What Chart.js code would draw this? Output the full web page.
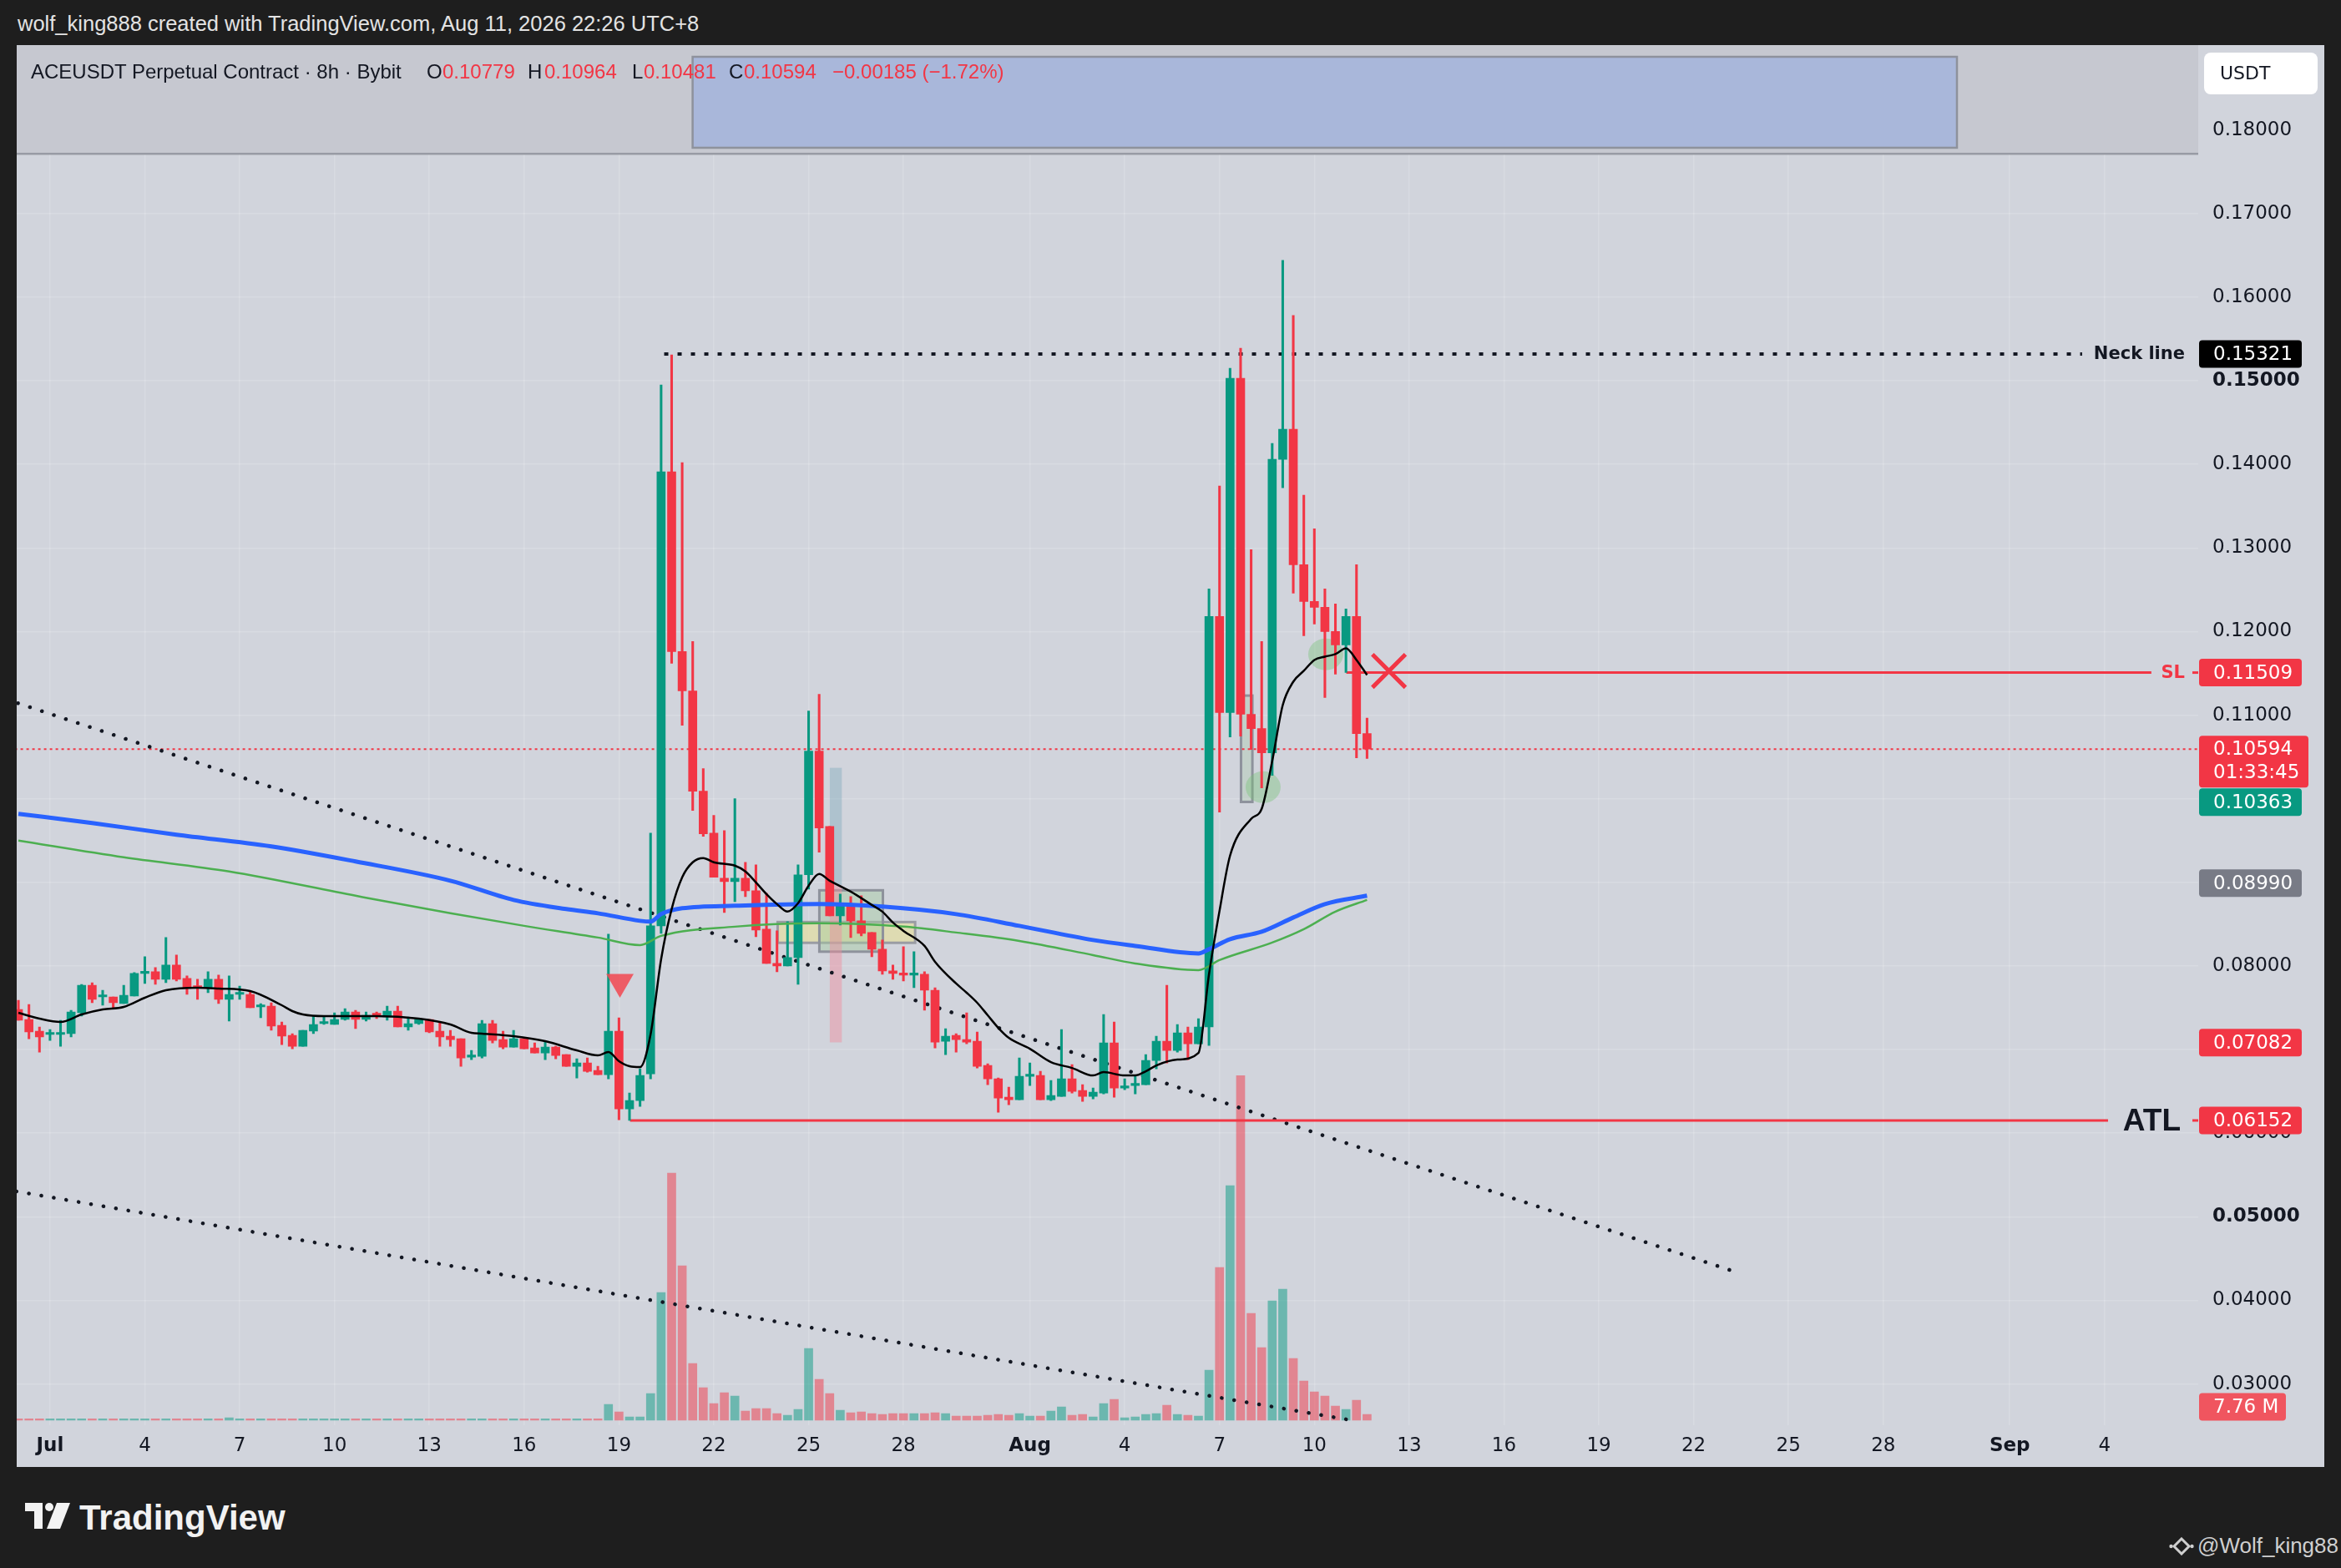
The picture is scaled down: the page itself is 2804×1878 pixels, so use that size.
<!DOCTYPE html>
<html>
<head>
<meta charset="utf-8">
<title>ACEUSDT Perpetual Contract 8h</title>
<script src="https://cdn.jsdelivr.net/npm/chart.js@4.4.1/dist/chart.umd.min.js"></script>
<style>
  html, body { margin:0; padding:0; background:#1e1e1e; }
  body { width:2804px; height:1878px; position:relative; overflow:hidden; font-family:"Liberation Sans", Arial, sans-serif; }
  #title { position:absolute; left:21px; top:14px; color:#e3e3e3; font-size:25.5px; white-space:nowrap; }
  #panel { position:absolute; left:20px; top:54px; width:2764px; height:1703px; background:#d1d4dc; }
  .lg { position:absolute; top:72px; font-size:24px; color:#131722; white-space:nowrap; }
  .lg.v { color:#f23645; }
  #logo { position:absolute; left:30px; top:1800px; }
  #logotext { position:absolute; left:95px; top:1794px; font-size:42px; font-weight:bold; color:#f2f2f2; }
  #mark { position:absolute; left:2598px; top:1836px; color:#cfcfcf; font-size:26px; white-space:nowrap; }
  #mark svg { vertical-align:-3px; margin-right:4px; }
</style>
</head>
<body>
<div id="title">wolf_king888 created with TradingView.com, Aug 11, 2026 22:26 UTC+8</div>
<div id="panel"><canvas id="c"></canvas></div>

<span class="lg" style="left:37px">ACEUSDT Perpetual Contract · 8h · Bybit</span>
<span class="lg" style="left:511px">O</span><span class="lg v" style="left:530px">0.10779</span>
<span class="lg" style="left:632px">H</span><span class="lg v" style="left:652px">0.10964</span>
<span class="lg" style="left:757px">L</span><span class="lg v" style="left:771px">0.10481</span>
<span class="lg" style="left:873px">C</span><span class="lg v" style="left:891px">0.10594</span>
<span class="lg v" style="left:997px">−0.00185 (−1.72%)</span>

<svg id="logo" width="54" height="36" viewBox="0 0 54 36">
  <path d="M0 0 H21 V31 H11 V10 H0 Z" fill="#f2f2f2"/>
  <circle cx="29" cy="5" r="5" fill="#f2f2f2"/>
  <path d="M38 0 H54 L42 31 H26 Z" fill="#f2f2f2"/>
</svg>
<div id="logotext">TradingView</div>
<div id="mark"><svg width="30" height="22" viewBox="0 0 30 22"><path d="M15 2 L24 11 L15 20 L6 11 Z" fill="none" stroke="#cfcfcf" stroke-width="3"/><circle cx="2.5" cy="11" r="2.2" fill="#cfcfcf"/><circle cx="27.5" cy="11" r="2.2" fill="#cfcfcf"/></svg>@Wolf_king88</div>

<script>
// 8h candles, first one opens Jun 30 00:00 (day -1, day 0 = Jul 1)
var firstCandleDay = -1;

var candleOpen = [
  0.0748,0.0736,0.0722,0.0718,0.0718,0.0719,0.0744,0.0777,0.0763,0.0763,
  0.0755,0.0764,0.0791,0.0793,0.0784,0.0801,0.0785,0.0775,0.0774,0.0784,
  0.0760,0.0766,0.0766,0.0751,0.0752,0.0729,0.0717,0.0704,0.0722,0.0731,
  0.0730,0.0736,0.0745,0.0736,0.0742,0.0739,0.0746,0.0727,0.0731,0.0736,
  0.0722,0.0716,0.0713,0.0691,0.0692,0.0731,0.0712,0.0703,0.0713,0.0702,
  0.0696,0.0703,0.0694,0.0680,0.0684,0.0675,0.0670,0.0722,0.0629,0.0639,
  0.0671,0.0848,0.1391,0.1176,0.1129,0.1009,0.0959,0.0905,0.0901,0.0905,
  0.0890,0.0844,0.0803,0.0800,0.0810,0.0909,0.1057,0.0967,0.0860,0.0872,
  0.0854,0.0840,0.0820,0.0794,0.0791,0.0789,0.0790,0.0771,0.0710,0.0717,
  0.0712,0.0710,0.0681,0.0665,0.0643,0.0640,0.0668,0.0669,0.0640,0.0644,
  0.0665,0.0651,0.0644,0.0648,0.0708,0.0654,0.0657,0.0658,0.0687,0.0710,
  0.0699,0.0720,0.0707,0.0727,0.1218,0.1103,0.1503,0.1101,0.1084,0.1055,
  0.1406,0.1442,0.1280,0.1236,0.1229,0.1200,0.1184,0.1218,0.10779
];
var candleHigh = [
  0.0759,0.0754,0.0727,0.0724,0.0735,0.0747,0.0778,0.0780,0.0771,0.0763,
  0.0777,0.0792,0.0811,0.0798,0.0834,0.0813,0.0788,0.0784,0.0793,0.0789,
  0.0788,0.0776,0.0770,0.0755,0.0756,0.0733,0.0719,0.0723,0.0740,0.0740,
  0.0744,0.0749,0.0747,0.0745,0.0745,0.0752,0.0752,0.0739,0.0737,0.0736,
  0.0732,0.0723,0.0713,0.0699,0.0735,0.0735,0.0722,0.0723,0.0714,0.0708,
  0.0710,0.0704,0.0694,0.0689,0.0690,0.0680,0.0838,0.0738,0.0648,0.0677,
  0.0959,0.1495,0.1531,0.1402,0.1188,0.1036,0.0980,0.0962,0.1000,0.0924,
  0.0921,0.0887,0.0842,0.0853,0.0921,0.1105,0.1125,0.0967,0.0886,0.0883,
  0.0884,0.0840,0.0831,0.0801,0.0823,0.0817,0.0793,0.0774,0.0725,0.0719,
  0.0744,0.0721,0.0683,0.0666,0.0655,0.0690,0.0684,0.0674,0.0663,0.0724,
  0.0682,0.0658,0.0654,0.0742,0.0733,0.0665,0.0669,0.0694,0.0716,0.0777,
  0.0730,0.0727,0.0737,0.1251,0.1374,0.1515,0.1539,0.1298,0.1188,0.1425,
  0.1644,0.1578,0.1363,0.1323,0.1251,0.1233,0.1227,0.1280,0.10964
];
var candleLow = [
  0.0735,0.0713,0.0697,0.0711,0.0704,0.0715,0.0740,0.0756,0.0753,0.0749,
  0.0755,0.0764,0.0779,0.0778,0.0780,0.0782,0.0766,0.0760,0.0768,0.0755,
  0.0734,0.0760,0.0750,0.0738,0.0723,0.0706,0.0701,0.0704,0.0719,0.0730,
  0.0730,0.0735,0.0725,0.0734,0.0737,0.0735,0.0727,0.0723,0.0730,0.0720,
  0.0704,0.0704,0.0680,0.0688,0.0690,0.0708,0.0701,0.0703,0.0701,0.0696,
  0.0688,0.0689,0.0680,0.0666,0.0673,0.0670,0.0665,0.0616,0.06152,0.0632,
  0.0665,0.0839,0.1162,0.1088,0.0986,0.0955,0.0906,0.0864,0.0877,0.0883,
  0.0835,0.0803,0.0793,0.0800,0.0778,0.0892,0.0936,0.0860,0.0849,0.0834,
  0.0836,0.0811,0.0790,0.0784,0.0782,0.0774,0.0747,0.0702,0.0694,0.0697,
  0.0707,0.0678,0.0658,0.0625,0.0634,0.0640,0.0657,0.0640,0.0639,0.0644,
  0.0648,0.0638,0.0641,0.0647,0.0643,0.0652,0.0647,0.0658,0.0677,0.0684,
  0.0697,0.0688,0.0707,0.0705,0.0984,0.1074,0.1075,0.1059,0.1013,0.1028,
  0.1372,0.1246,0.1195,0.1209,0.1121,0.1149,0.1151,0.1049,0.10481
];
var candleClose = [
  0.0735,0.0721,0.0715,0.0719,0.0720,0.0745,0.0777,0.0760,0.0764,0.0756,
  0.0765,0.0791,0.0793,0.0784,0.0801,0.0784,0.0773,0.0774,0.0784,0.0760,
  0.0766,0.0767,0.0750,0.0752,0.0728,0.0716,0.0704,0.0723,0.0730,0.0732,
  0.0736,0.0745,0.0736,0.0741,0.0741,0.0746,0.0727,0.0731,0.0736,0.0721,
  0.0715,0.0712,0.0690,0.0693,0.0731,0.0711,0.0703,0.0713,0.0701,0.0696,
  0.0703,0.0693,0.0680,0.0684,0.0674,0.0670,0.0722,0.0629,0.0639,0.0669,
  0.0848,0.1391,0.1176,0.1129,0.1009,0.0958,0.0906,0.0901,0.0905,0.0890,
  0.0843,0.0803,0.0800,0.0810,0.0909,0.1057,0.0965,0.0860,0.0872,0.0854,
  0.0839,0.0820,0.0794,0.0791,0.0789,0.0791,0.0771,0.0709,0.0716,0.0712,
  0.0709,0.0680,0.0665,0.0642,0.0640,0.0668,0.0669,0.0640,0.0645,0.0665,
  0.0650,0.0644,0.0649,0.0708,0.0654,0.0656,0.0659,0.0687,0.0710,0.0699,
  0.0720,0.0707,0.0727,0.1218,0.1103,0.1503,0.1101,0.1084,0.1055,0.1406,
  0.1442,0.1280,0.1236,0.1229,0.1200,0.1184,0.1218,0.10779,0.10594
];
// volume in millions
var volumeM = [
  1.9,1.8,1.9,1.8,1.8,1.9,1.8,1.9,1.8,1.8,
  1.9,1.8,1.9,1.8,1.9,1.8,1.8,1.9,1.8,1.9,
  3.3,1.9,1.8,1.8,1.9,1.8,1.9,1.8,1.8,1.9,
  1.8,1.8,1.9,1.8,1.8,1.9,1.8,1.8,1.9,1.8,
  1.9,1.8,1.8,1.9,1.8,1.9,1.8,1.8,1.9,1.8,
  1.9,1.8,1.8,1.9,1.8,1.9,21.1,11.1,4.4,4.4,
  35.5,169.6,328.1,205.1,75.4,43.2,22.2,36.6,32.1,12.2,
  15.5,15.5,8.9,6.7,14.4,95.3,54.3,35.5,13.3,10.0,
  11.1,8.9,7.8,8.9,8.9,8.9,8.9,10.0,8.9,5.5,
  5.5,5.5,6.7,7.8,6.7,8.9,5.5,5.5,12.2,17.7,
  6.7,7.8,4.4,22.2,27.7,3.3,4.4,7.8,8.9,20.0,
  7.8,6.7,5.5,66.5,202.9,311.5,457.4,141.9,96.4,158.5,
  174.0,82.0,52.1,37.7,32.1,18.8,14.4,26.6,7.76
];

// moving averages: [candle index, value]
var maBlue = [[0,0.0982],[7,0.0971],[15,0.0957],[24,0.0943],[32,0.0925],[41,0.0902],[47,0.0879],[52,0.0868],
  [55,0.0863],[59,0.0854],[60,0.0853],[61,0.0862],[63,0.0869],[68,0.0872],[76,0.0874],[82,0.0871],[89,0.0862],
  [95,0.0848],[102,0.0831],[106,0.0824],[112,0.0815],[113,0.0820],[115,0.0832],[118,0.0841],[121,0.0858],
  [124,0.0874],[128,0.0884]];
var maGreen = [[0,0.0950],[10,0.0930],[20,0.0913],[32,0.0884],[41,0.0863],[48,0.0848],[55,0.0834],[59,0.0825],
  [61,0.0836],[68,0.0847],[76,0.0851],[84,0.0847],[89,0.0840],[95,0.0830],[102,0.0813],[106,0.0803],[112,0.0795],
  [114,0.0807],[119,0.0828],[122,0.0844],[125,0.0865],[128,0.0879]];
var maBlack = [[0,0.0744],[2,0.0737],[4,0.0733],[6,0.0742],[8,0.0748],[10,0.0751],[12,0.0762],[14,0.0771],
  [17,0.0774],[19,0.0773],[22,0.0770],[25,0.0753],[26,0.0746],[27,0.0742],[29,0.0740],[34,0.0740],[38,0.0737],
  [41,0.0730],[43,0.0720],[44,0.0719],[47,0.0716],[50,0.0710],[53,0.0699],[55,0.0693],[56,0.0697],[57,0.0686],
  [58,0.0680],[59,0.0679],[60,0.0718],[61,0.0808],[62,0.0868],[63,0.0906],[64,0.0924],[65,0.0929],[66,0.0924],
  [68,0.0920],[69,0.0913],[70,0.0900],[71,0.0886],[72,0.0874],[73,0.0865],[74,0.0875],[75,0.0896],[76,0.0910],
  [77,0.0902],[79,0.0889],[81,0.0873],[82,0.0865],[83,0.0852],[84,0.0842],[86,0.0824],[87,0.0805],[89,0.0779],
  [90,0.0768],[91,0.0756],[92,0.0741],[93,0.0726],[94,0.0714],[96,0.0701],[98,0.0685],[100,0.0678],[102,0.0669],
  [103,0.0673],[105,0.0669],[106,0.0669],[107,0.0674],[108,0.0681],[110,0.0688],[112,0.0696],[113,0.0790],
  [114,0.0866],[115,0.0932],[117,0.0976],[118,0.0988],[119,0.1045],[120,0.1112],[121,0.1140],[122,0.1153],
  [123,0.1166],[124,0.1170],[125,0.1173],[126,0.1180],[127,0.1166],[128,0.1148]];

// drawn lines: [day, price]
var trendUpper = [[-1.015,0.11143],[53.19,0.04357]];
var trendLower = [[-1.062,0.05304],[41.10,0.02571]];
var neckLine = [[19.43,0.15321],[64.29,0.15321]];
var slLine = [[41.01,0.11509],[66.48,0.11509]];
var atlLine = [[18.35,0.06152],[65.11,0.06152]];
var lastPrice = 0.10594;
var sellMark = [[18.03,0.07809]];
var crossMark = [[42.36,0.11529]];

var timeTickDays = [0,3,6,9,12,15,18,21,24,27,31,34,37,40,43,46,49,52,55,58,62,65];
var timeTickLabels = ['Jul','4','7','10','13','16','19','22','25','28','Aug','4','7','10','13','16','19','22','25','28','Sep','4'];
var priceTicks = [0.03,0.04,0.05,0.06,0.07,0.08,0.09,0.10,0.11,0.12,0.13,0.14,0.15,0.16,0.17,0.18];

// value at canvas pixel 0 and pixels per unit (used to pin the scales to the picture)
var dayAtLeft = -1.0539, pxPerDay = 37.86;
var priceAtTop = 0.19015, pxPerPrice = 10013;
var volZeroPx = 1647, pxPerVol = 0.902;
var xMin = -1.054, xMax = 67.96;
var yMin = 0.02506, yMax = 0.19015;

// rectangle / ellipse drawings (day, price)
var boxes = [
  {x0:23.02, x1:27.37, p0:0.08277, p1:0.08525, fill:'rgba(228,222,160,0.7)', stroke:'#9a9ca3'},
  {x0:24.34, x1:26.35, p0:0.08171, p1:0.08905, fill:'rgba(165,205,160,0.45)', stroke:'#8e929c'},
  {x0:24.67, x1:25.05, p0:0.08966, p1:0.10370, fill:'rgba(110,160,180,0.35)'},
  {x0:24.67, x1:25.05, p0:0.07086, p1:0.08966, fill:'rgba(240,140,155,0.45)'},
  {x0:37.68, x1:38.04, p0:0.09962, p1:0.11234, fill:'rgba(165,200,165,0.35)', stroke:'#8e929c'}
];
var ellipses = [{x:38.38, p:0.10138}, {x:40.36, p:0.11727}];
var topBox = {x0:20.33, x1:60.33, p0:0.17787, p1:0.18875};
var headerBandPrice = 0.17717;

var UP = '#089981', DN = '#f23645';
function dayOf(i) { return firstCandleDay + i / 3; }
function isUp(i) { return candleClose[i] >= candleOpen[i]; }
function pts(a) { return a.map(function (p) { return {x:p[0], y:p[1]}; }); }
function maPts(a) { return a.map(function (p) { return {x:dayOf(p[0]), y:p[1]}; }); }

var wickData = candleOpen.map(function (o, i) { return {x:dayOf(i), y:[candleLow[i], candleHigh[i]]}; });
var bodyData = candleOpen.map(function (o, i) { return {x:dayOf(i), y:[o, candleClose[i]]}; });
var candleColors = candleOpen.map(function (o, i) { return isUp(i) ? UP : DN; });
var volData = volumeM.map(function (v, i) { return {x:dayOf(i), y:v}; });
var volColors = candleOpen.map(function (o, i) { return isUp(i) ? 'rgba(8,153,129,0.5)' : 'rgba(242,54,69,0.5)'; });

var drawings = {
  id: 'drawings',
  beforeDatasetsDraw: function (chart) {
    var ctx = chart.ctx, a = chart.chartArea, x = chart.scales.x, y = chart.scales.y;
    ctx.save();
    var yb = y.getPixelForValue(headerBandPrice);
    ctx.fillStyle = '#c6c8d0';
    ctx.fillRect(a.left, 0, a.right - a.left, yb);
    ctx.fillStyle = '#989ba4';
    ctx.fillRect(a.left, yb - 1, a.right - a.left, 2.5);
    // blue box on top
    var bx0 = x.getPixelForValue(topBox.x0), bx1 = x.getPixelForValue(topBox.x1);
    var by0 = y.getPixelForValue(topBox.p1), by1 = y.getPixelForValue(topBox.p0);
    ctx.fillStyle = '#a9b7da';
    ctx.fillRect(bx0, by0, bx1 - bx0, by1 - by0);
    ctx.strokeStyle = '#8e929c'; ctx.lineWidth = 2.5;
    ctx.strokeRect(bx0, by0, bx1 - bx0, by1 - by0);
    boxes.forEach(function (b) {
      var x0 = x.getPixelForValue(b.x0), x1 = x.getPixelForValue(b.x1);
      var y0 = y.getPixelForValue(b.p1), y1 = y.getPixelForValue(b.p0);
      ctx.fillStyle = b.fill;
      ctx.fillRect(x0, y0, x1 - x0, y1 - y0);
      if (b.stroke) { ctx.strokeStyle = b.stroke; ctx.lineWidth = 3; ctx.strokeRect(x0, y0, x1 - x0, y1 - y0); }
    });
    ellipses.forEach(function (e) {
      ctx.beginPath();
      ctx.ellipse(x.getPixelForValue(e.x), y.getPixelForValue(e.p), 21, 19, 0, 0, Math.PI * 2);
      ctx.fillStyle = 'rgba(120,195,120,0.4)';
      ctx.fill();
    });
    ctx.restore();
  },
  afterDraw: function (chart) {
    var ctx = chart.ctx, a = chart.chartArea, y = chart.scales.y, yv = chart.scales.yv;
    var x0 = a.right + 1;
    ctx.save();
    function tag(yc, text, bg, w) {
      ctx.fillStyle = bg;
      ctx.beginPath(); ctx.roundRect(x0, yc - 16.5, w || 123, 33, 4); ctx.fill();
      ctx.fillStyle = '#ffffff';
      ctx.font = '23px "DejaVu Sans", sans-serif';
      ctx.textAlign = 'left'; ctx.textBaseline = 'middle';
      ctx.fillText(text, x0 + 17, yc + 1);
    }
    // USDT
    ctx.fillStyle = '#ffffff';
    ctx.beginPath(); ctx.roundRect(a.right + 7, 9, 136, 50, 8); ctx.fill();
    ctx.fillStyle = '#131722'; ctx.font = '22px "DejaVu Sans", sans-serif';
    ctx.textAlign = 'left'; ctx.textBaseline = 'middle';
    ctx.fillText('USDT', a.right + 26, 35);

    var yNeck = y.getPixelForValue(0.15321);
    ctx.font = 'bold 21px "DejaVu Sans", sans-serif';
    ctx.fillStyle = '#131722'; ctx.textAlign = 'right';
    ctx.fillText('Neck line', a.right - 16, yNeck + 1);
    tag(yNeck, '0.15321', '#000000');

    var ySl = y.getPixelForValue(0.11509);
    ctx.font = 'bold 21px "DejaVu Sans", sans-serif';
    ctx.fillStyle = '#f23645'; ctx.textAlign = 'right';
    ctx.fillText('SL', a.right - 16, ySl + 1);
    ctx.fillRect(a.right - 7, ySl - 1.5, 7, 3);
    tag(ySl, '0.11509', '#f23645');

    var yAtl = y.getPixelForValue(0.06152);
    ctx.font = 'bold 37px "Liberation Sans", Arial, sans-serif';
    ctx.fillStyle = '#131722'; ctx.textAlign = 'right'; ctx.textBaseline = 'middle';
    ctx.fillText('ATL', a.right - 21, yAtl + 2);
    ctx.fillStyle = '#f23645';
    ctx.fillRect(a.right - 7, yAtl - 1.5, 7, 3);
    tag(yAtl, '0.06152', '#f23645');

    tag(y.getPixelForValue(0.07082), '0.07082', '#f23645');
    tag(y.getPixelForValue(0.08990), '0.08990', '#787b86');

    // last price with countdown
    var yc = y.getPixelForValue(lastPrice);
    ctx.fillStyle = '#f23645';
    ctx.beginPath(); ctx.roundRect(x0, yc - 16, 131, 62, 4); ctx.fill();
    ctx.fillStyle = '#ffffff'; ctx.font = '23px "DejaVu Sans", sans-serif';
    ctx.textAlign = 'left'; ctx.textBaseline = 'middle';
    ctx.fillText('0.10594', x0 + 17, yc + 1);
    ctx.fillText('01:33:45', x0 + 17, yc + 29);
    tag(yc - 16 + 62 + 1 + 16.5, '0.10363', '#089981');

    var yVol = Math.min(yv.getPixelForValue(7.76), a.bottom - 22);
    tag(yVol, '7.76 M', '#f0555f', 104);
    ctx.restore();
  }
};

var gridColor = 'rgba(255,255,255,0.17)';

var chart = new Chart(document.getElementById('c'), {
  type: 'bar',
  data: {
    datasets: [
      {type:'bar', label:'Volume', data:volData, yAxisID:'yv', backgroundColor:volColors, barThickness:10, grouped:false, order:20},
      {type:'line', label:'Last price', data:[{x:-5, y:lastPrice},{x:80, y:lastPrice}], borderColor:'#f23645', borderWidth:2, borderDash:[3,4], pointRadius:0, order:16},
      {type:'line', label:'Trend 1', data:pts(trendUpper), borderColor:'#131722', borderWidth:4.5, borderDash:[0.1,15], borderCapStyle:'round', pointRadius:0, order:15},
      {type:'line', label:'Trend 2', data:pts(trendLower), borderColor:'#131722', borderWidth:4.5, borderDash:[0.1,15], borderCapStyle:'round', pointRadius:0, order:15},
      {type:'line', label:'Neck line', data:pts(neckLine), borderColor:'#131722', borderWidth:4, borderDash:[5,11], pointRadius:0, order:14},
      {type:'line', label:'SL', data:pts(slLine), borderColor:'#f23645', borderWidth:3, pointRadius:0, order:13},
      {type:'line', label:'ATL', data:pts(atlLine), borderColor:'#f23645', borderWidth:3, pointRadius:0, order:13},
      {type:'bar', label:'Wicks', data:wickData, backgroundColor:candleColors, barThickness:2.4, grouped:false, order:9},
      {type:'bar', label:'Bodies', data:bodyData, backgroundColor:candleColors, barThickness:10, minBarLength:2.5, grouped:false, order:8},
      {type:'line', label:'MA green', data:maPts(maGreen), borderColor:'#4caf50', borderWidth:2.5, pointRadius:0, cubicInterpolationMode:'monotone', order:6},
      {type:'line', label:'MA blue', data:maPts(maBlue), borderColor:'#2962ff', borderWidth:5, pointRadius:0, cubicInterpolationMode:'monotone', order:5},
      {type:'line', label:'MA black', data:maPts(maBlack), borderColor:'#000000', borderWidth:2.5, pointRadius:0, cubicInterpolationMode:'monotone', order:4},
      {type:'scatter', label:'Sell', data:pts(sellMark), pointStyle:'triangle', rotation:180, radius:19, backgroundColor:'rgba(242,70,80,0.85)', borderWidth:0, order:2},
      {type:'scatter', label:'Stop', data:pts(crossMark), pointStyle:'crossRot', radius:28, borderColor:'#f23645', borderWidth:5, order:1}
    ]
  },
  options: {
    responsive: true,
    maintainAspectRatio: false,
    animation: false,
    events: [],
    layout: { padding: 0, autoPadding: false },
    plugins: { legend: { display:false }, tooltip: { enabled:false } },
    scales: {
      x: {
        type:'linear', min:xMin, max:xMax, offset:false,
        grid: { color:gridColor, lineWidth:1.5, drawTicks:false, offset:false },
        border: { display:false },
        afterBuildTicks: function (s) { s.ticks = timeTickDays.map(function (v) { return {value:v}; }); },
        afterFit: function (s) { s.height = 50; },
        ticks: {
          autoSkip:false, maxRotation:0, padding:11, color:'#131722',
          font: function (c) {
            var m = c.tick && (c.tick.value === 0 || c.tick.value === 31 || c.tick.value === 62);
            return {family:'"DejaVu Sans", sans-serif', size:23, weight: m ? 'bold' : 'normal'};
          },
          callback: function (v, i) { return timeTickLabels[i]; }
        }
      },
      y: {
        type:'linear', position:'right', min:yMin, max:yMax,
        grid: { color:gridColor, lineWidth:1.5, drawTicks:false },
        border: { display:false },
        afterBuildTicks: function (s) { s.ticks = priceTicks.map(function (v) { return {value:v}; }); },
        afterFit: function (s) { s.width = 151; },
        ticks: {
          padding:17, color:'#131722',
          font: function (c) {
            var v = c.tick ? Math.round(c.tick.value * 100) : 0;
            return {family:'"DejaVu Sans", sans-serif', size:23, weight: (v === 15 || v === 5) ? 'bold' : 'normal'};
          },
          callback: function (v) { return v.toFixed(5); }
        }
      },
      yv: { type:'linear', display:false, min:-6.7, max:1826 }
    }
  },
  plugins: [drawings]
});

// pin the scale ranges to the actual chart area so the axes land where the picture has them
var ca = chart.chartArea;
var sc = chart.options.scales;
sc.x.min = dayAtLeft + ca.left / pxPerDay;
sc.x.max = dayAtLeft + ca.right / pxPerDay;
sc.y.max = priceAtTop - ca.top / pxPerPrice;
sc.y.min = priceAtTop - ca.bottom / pxPerPrice;
sc.yv.min = (volZeroPx - ca.bottom) / pxPerVol;
sc.yv.max = (volZeroPx - ca.top) / pxPerVol;
chart.update();
</script>
</body>
</html>
